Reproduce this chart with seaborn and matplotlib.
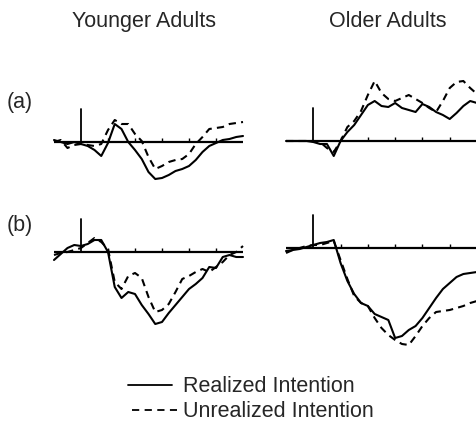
import numpy as np
import pandas as pd
import matplotlib
matplotlib.use("Agg")
import matplotlib.pyplot as plt
import seaborn as sns
from matplotlib.lines import Line2D

sns.set_theme(style="white")
plt.rcParams['font.family'] = ['Liberation Sans', 'DejaVu Sans']

# ---- data (ms, amplitude in arbitrary units, positive up) ----
time_ms = list(range(-200, 1201, 50))
conditions = ["Realized Intention", "Unrealized Intention"]
groups = ["Younger Adults", "Older Adults"]
rows = ["(a)", "(b)"]

young_a_realized = [2, 0, -2, 0, -2, -4, -8, -14, -1, 18, 13, 0, -8, -17, -30, -37, -36,
                    -33, -29, -27, -24, -18, -10, -4, -1, 2, 3, 5, 6]
young_a_unrealized = [0, 2, -6, -3, -2, -3, -4, -2, 12, 22, 18, 18, 8, 1, -15, -27, -24,
                      -20, -18, -17, -12, -2, 5, 13, 14, 15, 18, 19, 20]
old_a_realized = [0, 0, 0, 0, -1, -3, -3, -15, 0, 9, 16, 26, 36, 40, 35, 34, 38,
                  33, 31, 29, 37, 34, 29, 26, 22, 28, 35, 40, 38]
old_a_unrealized = [0, 0, 0, 0, 0, -1, -7, -11, 0, 14, 20, 30, 46, 60, 48, 42, 40,
                    43, 46, 42, 38, 33, 29, 40, 53, 59, 60, 53, 47]
young_b_realized = [-8, -2, 4, 7, 6, 8, 12, 12, 0, -35, -46, -40, -42, -53, -62, -72, -70,
                    -61, -53, -45, -37, -32, -26, -15, -16, -5, -3, -5, -5]
young_b_unrealized = [-3, -1, 0, 2, 4, 9, 14, 10, 3, -30, -37, -24, -21, -26, -45, -60, -58,
                      -52, -40, -27, -24, -20, -17, -20, -15, -10, -3, 0, 6]
old_b_realized = [-3, -2, -1, 1, 3, 5, 6, 8, -15, -33, -46, -55, -58, -66, -69, -72, -90,
                  -88, -82, -78, -70, -60, -50, -41, -35, -29, -26, -25, -24]
old_b_unrealized = [-5, -2, 0, 2, 3, 3, 5, 7, -12, -31, -48, -55, -58, -70, -80, -87, -92,
                    -96, -97, -88, -78, -70, -64, -63, -62, -60, -58, -55, -53]

tick_ms = [200, 400, 600, 800, 1000]
onset_bar = 33

W, H = 477, 422
fig = plt.figure(figsize=(W / 100, H / 100), dpi=100)

def make_df(real, unreal):
    return pd.DataFrame({
        "t": time_ms * 2,
        "v": list(real) + list(unreal),
        "cond": [conditions[0]] * len(time_ms) + [conditions[1]] * len(time_ms),
    })

def panel(left_px, width_px, base_px, ylo, yhi, real, unreal):
    bottom_px = base_px - ylo
    ax = fig.add_axes([left_px / W, 1 - bottom_px / H, width_px / W, (yhi - ylo) / H])
    df = make_df(real, unreal)
    sns.lineplot(data=df, x="t", y="v", hue="cond", style="cond",
                 palette={conditions[0]: "black", conditions[1]: "black"},
                 dashes={conditions[0]: "", conditions[1]: (3.5, 2.5)},
                 lw=1.5, legend=False, ax=ax, clip_on=False)
    ax.plot([-200, 1200], [0, 0], color="black", lw=1.6, solid_capstyle="butt")
    ax.plot([0, 0], [0, onset_bar], color="black", lw=1.3)
    ax.vlines(tick_ms, 0, 4, color="black", lw=1.0)
    ax.set_xlim(-200, 1200)
    ax.set_ylim(ylo, yhi)
    ax.axis("off")
    return ax

panel(54, 189, 142, -50, 70, young_a_realized, young_a_unrealized)
panel(286, 191, 141, -50, 70, old_a_realized, old_a_unrealized)
panel(54, 189, 252, -105, 40, young_b_realized, young_b_unrealized)
panel(286, 191, 248, -105, 40, old_b_realized, old_b_unrealized)

fs = 15.5
fig.text(144 / W, 1 - 27 / H, groups[0], ha="center", va="baseline", fontsize=fs)
fig.text(388 / W, 1 - 27 / H, groups[1], ha="center", va="baseline", fontsize=fs)
fig.text(7 / W, 1 - 108 / H, rows[0], ha="left", va="baseline", fontsize=fs)
fig.text(7 / W, 1 - 231 / H, rows[1], ha="left", va="baseline", fontsize=fs)

# legend
fig.add_artist(Line2D([128 / W, 172 / W], [1 - 385 / H, 1 - 385 / H],
                      transform=fig.transFigure, color="black", lw=1.3))
fig.add_artist(Line2D([132 / W, 177 / W], [1 - 410 / H, 1 - 410 / H],
                      transform=fig.transFigure, color="black", lw=1.3,
                      dashes=(4, 3)))
fig.text(183 / W, 1 - 392 / H, conditions[0], ha="left", va="baseline", fontsize=fs)
fig.text(183 / W, 1 - 417 / H, conditions[1], ha="left", va="baseline", fontsize=fs)

fig.savefig("out.png", dpi=100, facecolor="white")
